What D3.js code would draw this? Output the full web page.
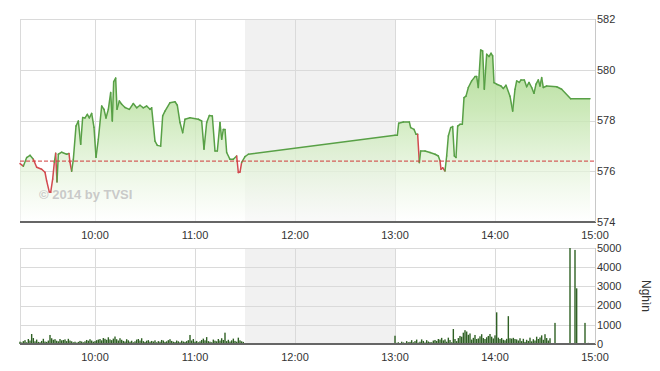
<!DOCTYPE html>
<html><head><meta charset="utf-8">
<script src="https://cdn.jsdelivr.net/npm/d3@7"></script>
<style>body{margin:0;background:#fff;} svg{display:block;font-family:"Liberation Sans",Arial,sans-serif;}</style>
</head><body><svg id="c" width="660" height="371"></svg>
<script>
// ---------- DATA ----------
const priceTimes = [
"09:15:00","09:17:00","09:19:00","09:21:00","09:23:00","09:25:00","09:28:00","09:30:00","09:31:00","09:32:36",
"09:33:24","09:34:36","09:35:36","09:36:24","09:37:12","09:38:00","09:40:00","09:43:00","09:44:24","09:45:00",
"09:46:00","09:47:00","09:48:36","09:50:00","09:51:24","09:52:36","09:54:00","09:55:24","09:56:36","09:58:00",
"09:59:24","10:00:36","10:02:00","10:04:00","10:05:24","10:06:36","10:08:00","10:09:24","10:10:24","10:11:12",
"10:12:24","10:13:12","10:14:36","10:16:00","10:18:00","10:20:36","10:23:00","10:25:00","10:27:00","10:29:00",
"10:31:00","10:33:00","10:34:00","10:36:00","10:37:24","10:39:24","10:40:36","10:42:00","10:45:00","10:48:00",
"10:49:24","10:51:00","10:52:36","10:54:00","10:57:00","11:02:00","11:04:00","11:05:24","11:07:00","11:08:36",
"11:10:24","11:12:00","11:13:24","11:15:00","11:16:00","11:17:00","11:18:00","11:19:00","11:21:00","11:23:00",
"11:25:00","11:26:00","11:27:00","11:28:00","11:30:00","11:32:00",
"13:00:00","13:01:24","13:02:12","13:05:00","13:08:36","13:09:24","13:11:24","13:12:36","13:13:36","13:14:36",
"13:15:24","13:18:00","13:21:00","13:24:00","13:26:00","13:27:00","13:27:36","13:28:36","13:30:00","13:31:00",
"13:32:00","13:33:24","13:34:36","13:35:36","13:36:36","13:37:36","13:39:00","13:40:24","13:41:24","13:42:36",
"13:44:00","13:46:00","13:48:00","13:49:00","13:50:00","13:51:24","13:52:36","13:53:36","13:55:00","13:56:24",
"13:57:36","13:58:36","13:59:24","14:01:00","14:03:36","14:05:00","14:06:36","14:09:00","14:10:36","14:12:00",
"14:13:00","14:14:36","14:15:36","14:17:36","14:19:00","14:20:24","14:22:00","14:23:24","14:24:36","14:26:00",
"14:27:00","14:28:00","14:29:00","14:31:00","14:37:00","14:40:00","14:45:24","14:57:00"];
const prices = [
576.30,576.20,576.54,576.63,576.47,576.16,576.08,575.96,575.62,575.18,
575.17,575.69,576.35,576.71,575.58,576.67,576.75,576.67,576.70,576.35,
576.00,576.47,577.78,577.98,577.06,578.12,578.10,578.24,578.10,578.28,
577.73,576.55,577.26,578.57,578.44,578.10,578.44,579.10,577.98,579.53,
579.67,578.44,578.77,578.64,578.51,578.44,578.67,578.50,578.60,578.50,
578.57,578.44,578.50,577.19,577.02,576.99,578.18,578.37,578.70,578.74,
578.60,577.92,577.52,578.05,578.11,578.05,577.98,576.87,577.92,578.20,
578.18,576.80,576.80,577.92,577.26,577.65,577.65,576.74,576.47,576.47,
576.60,575.95,575.97,576.35,576.58,576.67,
577.42,577.42,577.89,577.94,577.94,577.72,577.65,577.46,577.46,576.34,
576.80,576.80,576.74,576.67,576.60,576.41,576.08,576.14,576.01,576.60,
577.39,577.72,577.76,576.60,576.54,577.78,577.85,577.85,578.90,578.96,
579.30,579.56,579.73,579.73,579.30,580.78,580.74,579.23,580.61,580.52,
580.65,580.55,579.49,579.43,579.36,579.26,579.39,578.96,578.37,579.23,
579.56,579.50,579.60,579.60,579.33,579.50,579.30,579.07,579.43,579.60,
579.36,579.69,579.30,579.36,579.33,579.23,578.86,578.86];
const refPrice = 576.4;

const volMorningStart = "09:15:00";   // one value per minute, thousand shares
const volMorning = [
120,80,150,200,90,260,180,520,310,140,
230,110,90,160,270,130,110,180,470,300,
220,250,170,140,260,190,210,240,150,270,
180,140,90,120,70,110,160,130,90,140,
210,170,250,180,120,150,200,230,260,190,
310,270,220,350,240,200,280,390,250,180,
300,220,160,130,250,190,120,170,90,140,
230,260,180,300,150,110,170,200,120,160,
130,190,90,150,120,210,180,110,140,200,
250,160,120,100,180,140,90,170,130,110,
150,200,470,180,260,120,160,90,140,210,
280,190,360,150,120,90,230,170,140,260,
180,300,210,590,150,220,130,190,280,160,
120,330,190,140,110];
const volAfternoonStart = "13:00:00";
const volAfternoon = [
430,60,90,50,120,80,60,150,90,110,
200,90,150,230,70,120,240,160,80,200,
130,100,90,180,210,160,260,230,320,190,
240,120,330,210,90,780,260,150,310,420,
380,590,720,650,480,550,230,320,470,260,
290,400,510,310,260,350,420,520,380,290,
450,1650,330,260,310,220,190,270,1450,300,
280,320,260,240,180,300,150,270,110,220,
160,330,140,250,180,380,260,340,450,220,
510,310,180,300,
0,0,1100,0,0,0,0,0,0,0,0,5000,0,0,4900,2900,0,0,0,0,1100,0,60,40,30,0];

const timeTicks = ["10:00","11:00","12:00","13:00","14:00","15:00"];
const priceTicks = [574,576,578,580,582];
const volTicks = [0,1000,2000,3000,4000,5000];
const sessionRange = ["09:15","15:00"];
const lunchRange = ["11:30","13:00"];
const watermark = "\u00A9 2014 by TVSI";
const volUnit = "Ngh\u00ECn";

// ---------- HELPERS ----------
function T(s){const p=s.split(":").map(Number);return new Date(2014,0,2,p[0],p[1],p[2]||0);}
const svg = d3.select("#c");
const L=20, R=595;
const x = d3.scaleTime().domain(sessionRange.map(T)).range([L,R]);
const yP = d3.scaleLinear().domain([574,582]).range([222,19]);
const yV = d3.scaleLinear().domain([0,5000]).range([344,248]);
const gridC="#dadada", txtC="#333";

const defs = svg.append("defs");
const gr = defs.append("linearGradient").attr("id","gf").attr("gradientUnits","userSpaceOnUse")
  .attr("x1",0).attr("y1",yP(582)).attr("x2",0).attr("y2",yP(574));
gr.append("stop").attr("offset","0%").attr("stop-color","#9fd27f").attr("stop-opacity",0.95);
gr.append("stop").attr("offset","45%").attr("stop-color","#c3e5ad").attr("stop-opacity",0.85);
gr.append("stop").attr("offset","100%").attr("stop-color","#ffffff").attr("stop-opacity",0.6);

function panel(y, ticks, yTop, yBot){
  const g = svg.append("g");
  g.append("rect").attr("x",x(T(lunchRange[0]))).attr("y",yTop)
    .attr("width",x(T(lunchRange[1]))-x(T(lunchRange[0]))).attr("height",yBot-yTop).attr("fill","#f1f1f1");
  g.selectAll(".hg").data(ticks.slice(1)).enter().append("line")
    .attr("x1",L).attr("x2",R).attr("y1",d=>Math.round(y(d))+0.5).attr("y2",d=>Math.round(y(d))+0.5)
    .attr("stroke",gridC).attr("stroke-width",1);
  g.selectAll(".vg").data(timeTicks).enter().append("line")
    .attr("x1",d=>Math.round(x(T(d)))+0.5).attr("x2",d=>Math.round(x(T(d)))+0.5)
    .attr("y1",yTop).attr("y2",yBot).attr("stroke",gridC);
  g.append("line").attr("x1",L+0.5).attr("x2",L+0.5).attr("y1",yTop).attr("y2",yBot).attr("stroke",gridC);
  return g;
}
panel(yP, priceTicks, 19, 222);
panel(yV, volTicks, 248, 344);

// ---------- PRICE ----------
const pts = priceTimes.map((t,i)=>({t:T(t),v:prices[i]}));
const area = d3.area().x(d=>x(d.t)).y0(yP(574)).y1(d=>yP(d.v));
svg.append("path").datum(pts).attr("d",area).attr("fill","url(#gf)");

const line = d3.line().x(d=>x(d.t)).y(d=>yP(d.v));
const segs = d3.pairs(pts);
svg.append("g").selectAll("path").data(segs).enter().append("path")
  .attr("d",d=>line(d)).attr("fill","none")
  .attr("stroke",d=>d[1].v<refPrice?"#d24a4f":"#58a046")
  .attr("stroke-width",1.5).attr("stroke-linecap","round");

svg.append("line").attr("x1",L).attr("x2",R).attr("y1",yP(refPrice)).attr("y2",yP(refPrice))
  .attr("stroke","#d03a3a").attr("stroke-width",1).attr("stroke-dasharray","4,2");

svg.append("text").attr("x",39).attr("y",199).text(watermark)
  .attr("font-size",13).attr("font-weight","bold").attr("fill","#c4c4c4").attr("fill-opacity",0.9);

// ---------- VOLUME ----------
function volPts(start, arr){const s=T(start);return arr.map((v,i)=>({t:new Date(s.getTime()+i*60000),v:v}));}
const vols = volPts(volMorningStart,volMorning).concat(volPts(volAfternoonStart,volAfternoon)).filter(d=>d.v>0);
svg.append("g").selectAll("rect").data(vols).enter().append("rect")
  .attr("x",d=>x(d.t)-0.7).attr("width",1.4)
  .attr("y",d=>yV(d.v)).attr("height",d=>yV(0)-yV(d.v)).attr("fill","#2f6124");

// ---------- AXES ----------
[[222,239],[344,361]].forEach(([yl,ty])=>{
  svg.append("line").attr("x1",L).attr("x2",R+1).attr("y1",yl).attr("y2",yl).attr("stroke","#666").attr("stroke-width",2);
  svg.append("g").selectAll("text").data(timeTicks).enter().append("text")
    .attr("x",d=>x(T(d))).attr("y",ty).attr("text-anchor","middle").attr("font-size",11).attr("fill",txtC).text(d=>d);
});
svg.append("line").attr("x1",R+0.5).attr("x2",R+0.5).attr("y1",19).attr("y2",222).attr("stroke","#c8c8c8");
svg.append("line").attr("x1",R+0.5).attr("x2",R+0.5).attr("y1",248).attr("y2",344).attr("stroke","#c8c8c8");
svg.append("g").selectAll("text").data(priceTicks).enter().append("text")
  .attr("x",597).attr("y",d=>yP(d)).attr("dy","0.35em").attr("font-size",11).attr("fill",txtC).text(d=>d);
svg.append("g").selectAll("text").data(volTicks).enter().append("text")
  .attr("x",597).attr("y",d=>yV(d)).attr("dy","0.35em").attr("font-size",11).attr("fill",txtC).text(d=>d);
svg.append("text").attr("transform","translate(642,296) rotate(90)").attr("text-anchor","middle")
  .attr("font-size",12).attr("fill",txtC).text(volUnit);
</script></body></html>
